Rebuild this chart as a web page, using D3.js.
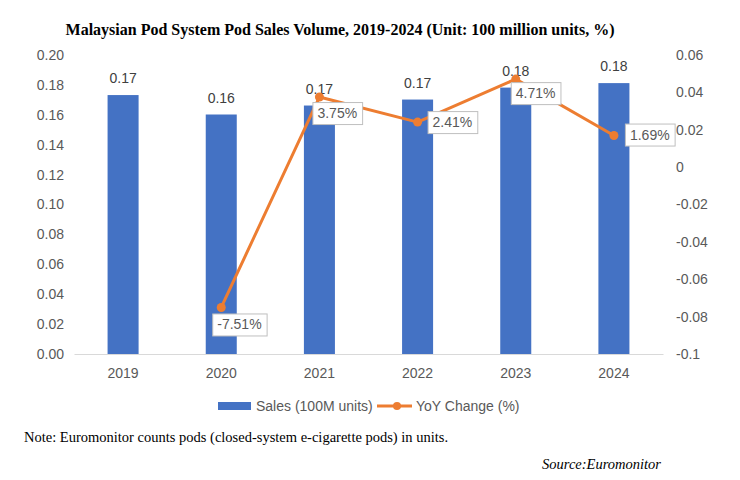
<!DOCTYPE html>
<html>
<head>
<meta charset="utf-8">
<script src="https://cdn.jsdelivr.net/npm/d3@7"></script>
<style>
  body { margin: 0; background: #fff; }
  svg { display: block; }
</style>
</head>
<body>
<script>
const years = ["2019", "2020", "2021", "2022", "2023", "2024"];
const sales = [0.1732, 0.1602, 0.1662, 0.1702, 0.1782, 0.1812];
const salesLabels = ["0.17", "0.16", "0.17", "0.17", "0.18", "0.18"];
const yoy = [null, -0.0751, 0.0375, 0.0241, 0.0471, 0.0169];
const yoyLabels = [null, "-7.51%", "3.75%", "2.41%", "4.71%", "1.69%"];
const leftTicks = [0, 0.02, 0.04, 0.06, 0.08, 0.10, 0.12, 0.14, 0.16, 0.18, 0.20];
const rightTicks = [-0.1, -0.08, -0.06, -0.04, -0.02, 0, 0.02, 0.04, 0.06];

const W = 740, H = 480;
const blue = "#4472C4", orange = "#ED7D31", grey = "#595959";
const sans = "'Liberation Sans', Arial, sans-serif";
const serif = "'Liberation Serif', 'Times New Roman', serif";

// label box offsets (box top-left relative to point), like excel's manual placement
const boxOffset = [null, [-9, 6], [-7, 5], [10, -11], [-5, 3], [11, -12]];

const svg = d3.select("body").append("svg")
  .attr("width", W).attr("height", H);

const x = d3.scaleBand().domain(years).range([74, 663])
  .paddingInner(0.684).paddingOuter(0.342);
const yL = d3.scaleLinear().domain([0, 0.2]).range([354, 55]);
const yR = d3.scaleLinear().domain([-0.1, 0.06]).range([354, 55]);

// title
svg.append("text")
  .attr("x", 340).attr("y", 35)
  .attr("text-anchor", "middle")
  .style("font-family", serif).style("font-weight", "bold").style("font-size", "16px")
  .attr("fill", "#000")
  .text("Malaysian Pod System Pod Sales Volume, 2019-2024 (Unit: 100 million units, %)");

// left axis
const axL = svg.append("g").attr("transform", "translate(74,0)")
  .call(d3.axisLeft(yL).tickValues(leftTicks).tickFormat(d3.format(".2f")).tickSize(0).tickPadding(10));
axL.select(".domain").remove();
axL.selectAll("text").style("font-family", sans).style("font-size", "14px").attr("fill", grey);

// right axis
const axR = svg.append("g").attr("transform", "translate(666,0)")
  .call(d3.axisRight(yR).tickValues(rightTicks)
    .tickFormat(d => d === 0 ? "0" : String(+d.toFixed(2))).tickSize(0).tickPadding(10));
axR.select(".domain").remove();
axR.selectAll("text").style("font-family", sans).style("font-size", "14px").attr("fill", grey);

// bars
svg.append("g").selectAll("rect")
  .data(sales)
  .join("rect")
  .attr("x", (d, i) => x(years[i]))
  .attr("width", x.bandwidth())
  .attr("y", d => yL(d))
  .attr("height", d => yL(0) - yL(d))
  .attr("fill", blue);

// baseline + x axis
const axB = svg.append("g").attr("transform", `translate(0,${yL(0)})`)
  .call(d3.axisBottom(x).tickSize(0).tickPadding(14));
axB.select(".domain").attr("stroke", "#d9d9d9").attr("stroke-width", 1);
axB.selectAll("text").style("font-family", sans).style("font-size", "14px").attr("fill", grey);

// bar labels
svg.append("g").selectAll("text")
  .data(sales)
  .join("text")
  .attr("x", (d, i) => x(years[i]) + x.bandwidth() / 2)
  .attr("y", d => yL(d) - 12)
  .attr("text-anchor", "middle")
  .style("font-family", sans).style("font-size", "14px")
  .attr("fill", "#404040")
  .text((d, i) => salesLabels[i]);

// yoy line
const pts = yoy.map((v, i) => ({ v, i })).filter(d => d.v !== null);
const cx = d => x(years[d.i]) + x.bandwidth() / 2;

svg.append("path")
  .datum(pts)
  .attr("fill", "none")
  .attr("stroke", orange)
  .attr("stroke-width", 3)
  .attr("stroke-linejoin", "round")
  .attr("d", d3.line().x(cx).y(d => yR(d.v)));

svg.append("g").selectAll("circle")
  .data(pts)
  .join("circle")
  .attr("cx", cx)
  .attr("cy", d => yR(d.v))
  .attr("r", 4.5)
  .attr("fill", orange);

// yoy labels in boxes
const lab = svg.append("g").selectAll("g")
  .data(pts)
  .join("g")
  .attr("transform", d => `translate(${cx(d) + boxOffset[d.i][0]},${yR(d.v) + boxOffset[d.i][1]})`);

lab.append("text")
  .attr("x", 5).attr("y", 16)
  .style("font-family", sans).style("font-size", "14px")
  .attr("fill", grey)
  .text(d => yoyLabels[d.i]);

lab.each(function () {
  const g = d3.select(this);
  const bb = g.select("text").node().getBBox();
  g.insert("rect", "text")
    .attr("x", 0.5).attr("y", 0.5)
    .attr("width", bb.width + 10).attr("height", 22)
    .attr("fill", "#fff")
    .attr("stroke", "#bfbfbf").attr("stroke-width", 1);
});

// legend
const leg = svg.append("g").attr("transform", "translate(218,406)");
leg.append("rect").attr("x", 0).attr("y", -4).attr("width", 33).attr("height", 8).attr("fill", blue);
leg.append("text").attr("x", 38).attr("y", 5)
  .style("font-family", sans).style("font-size", "14px").attr("fill", grey)
  .text("Sales (100M units)");
leg.append("line").attr("x1", 159).attr("x2", 194).attr("y1", 0).attr("y2", 0)
  .attr("stroke", orange).attr("stroke-width", 3);
leg.append("circle").attr("cx", 179).attr("cy", 0).attr("r", 4).attr("fill", orange);
leg.append("text").attr("x", 198).attr("y", 5)
  .style("font-family", sans).style("font-size", "14px").attr("fill", grey)
  .text("YoY Change (%)");

// note and source
svg.append("text")
  .attr("x", 24).attr("y", 442)
  .style("font-family", serif).style("font-size", "14.5px").attr("fill", "#000")
  .text("Note: Euromonitor counts pods (closed-system e-cigarette pods) in units.");

svg.append("text")
  .attr("x", 661).attr("y", 469)
  .attr("text-anchor", "end")
  .style("font-family", serif).style("font-style", "italic").style("font-size", "14.5px").attr("fill", "#000")
  .text("Source:Euromonitor");
</script>
</body>
</html>
